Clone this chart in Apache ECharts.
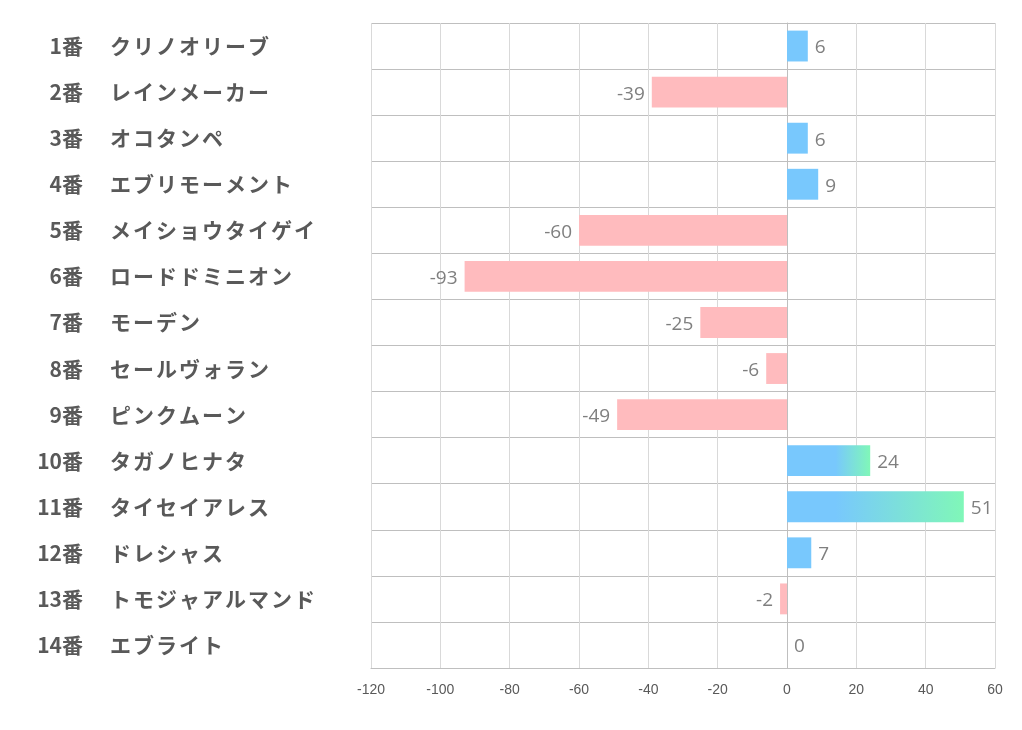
<!DOCTYPE html>
<html><head><meta charset="utf-8">
<script src="https://cdn.jsdelivr.net/npm/echarts@6/dist/echarts.min.js"></script>
<style>html,body{margin:0;padding:0;background:#fff}#c{width:1022px;height:730px}</style>
</head><body><div id="c"></div>
<script>
const numbers = ['1番','2番','3番','4番','5番','6番','7番','8番','9番','10番','11番','12番','13番','14番'];
const names = ['クリノオリーブ','レインメーカー','オコタンペ','エブリモーメント','メイショウタイゲイ','ロードドミニオン','モーデン','セールヴォラン','ピンクムーン','タガノヒナタ','タイセイアレス','ドレシャス','トモジャアルマンド','エブライト'];
const values = [6,-39,6,9,-60,-93,-25,-6,-49,24,51,7,-2,0];
const xTicks = [-120,-100,-80,-60,-40,-20,0,20,40,60];

const BLUE = '#78c8fd', PINK = '#ffbbbe', GREEN = '#80f7b8';
function colorFor(v){
  if (v < 0) return PINK;
  if (v >= 20) {
    const s = Math.max(0, Math.min(0.9, 14 / v));
    return {type:'linear',x:0,y:0,x2:1,y2:0,colorStops:[{offset:0,color:BLUE},{offset:s,color:BLUE},{offset:1,color:GREEN}]};
  }
  return BLUE;
}
const F = 'Noto Sans CJK JP';
const chart = echarts.init(document.getElementById('c'));
chart.setOption({
  animation:false,
  grid:{left:371,right:27,top:23,bottom:62},
  xAxis:{type:'value',min:xTicks[0],max:xTicks[xTicks.length-1],interval:20,
    axisLine:{show:true,lineStyle:{color:'#bfbfbf'}},axisTick:{show:false},
    splitLine:{show:true,lineStyle:{color:'#d9d9d9'}},
    axisLabel:{color:'#595959',fontSize:14,margin:15,fontFamily:'Liberation Sans Narrow, Liberation Sans, sans-serif'}},
  yAxis:[{type:'category',inverse:true,data:numbers,position:'left',
    axisLine:{show:true,lineStyle:{color:'#bfbfbf'}},axisTick:{show:false},
    splitLine:{show:true,lineStyle:{color:'#bfbfbf'}},
    axisLabel:{align:'right',margin:288,fontSize:21,fontWeight:'bold',color:'#595959',fontFamily:F}},
   {type:'category',inverse:true,data:names,position:'left',offset:0,
    axisLine:{show:false},axisTick:{show:false},splitLine:{show:false},
    axisLabel:{align:'left',margin:261,
      formatter:function(v){return Array.from(v).map(ch=>'{c|'+ch+'}').join('');},
      rich:{c:{width:23,align:'left',fontSize:21,fontWeight:'bold',color:'#595959',fontFamily:F}}}}],
  series:[{type:'bar',barWidth:'67%',yAxisIndex:0,
    data:values.map(v=>({value:v,itemStyle:{color:colorFor(v)},label:{position:v<0?'left':'right'}})),
    label:{show:true,color:'#7f7f7f',fontSize:19,distance:7,offset:[0,2],fontFamily:'Open Sans, sans-serif'}}]
});
</script></body></html>
